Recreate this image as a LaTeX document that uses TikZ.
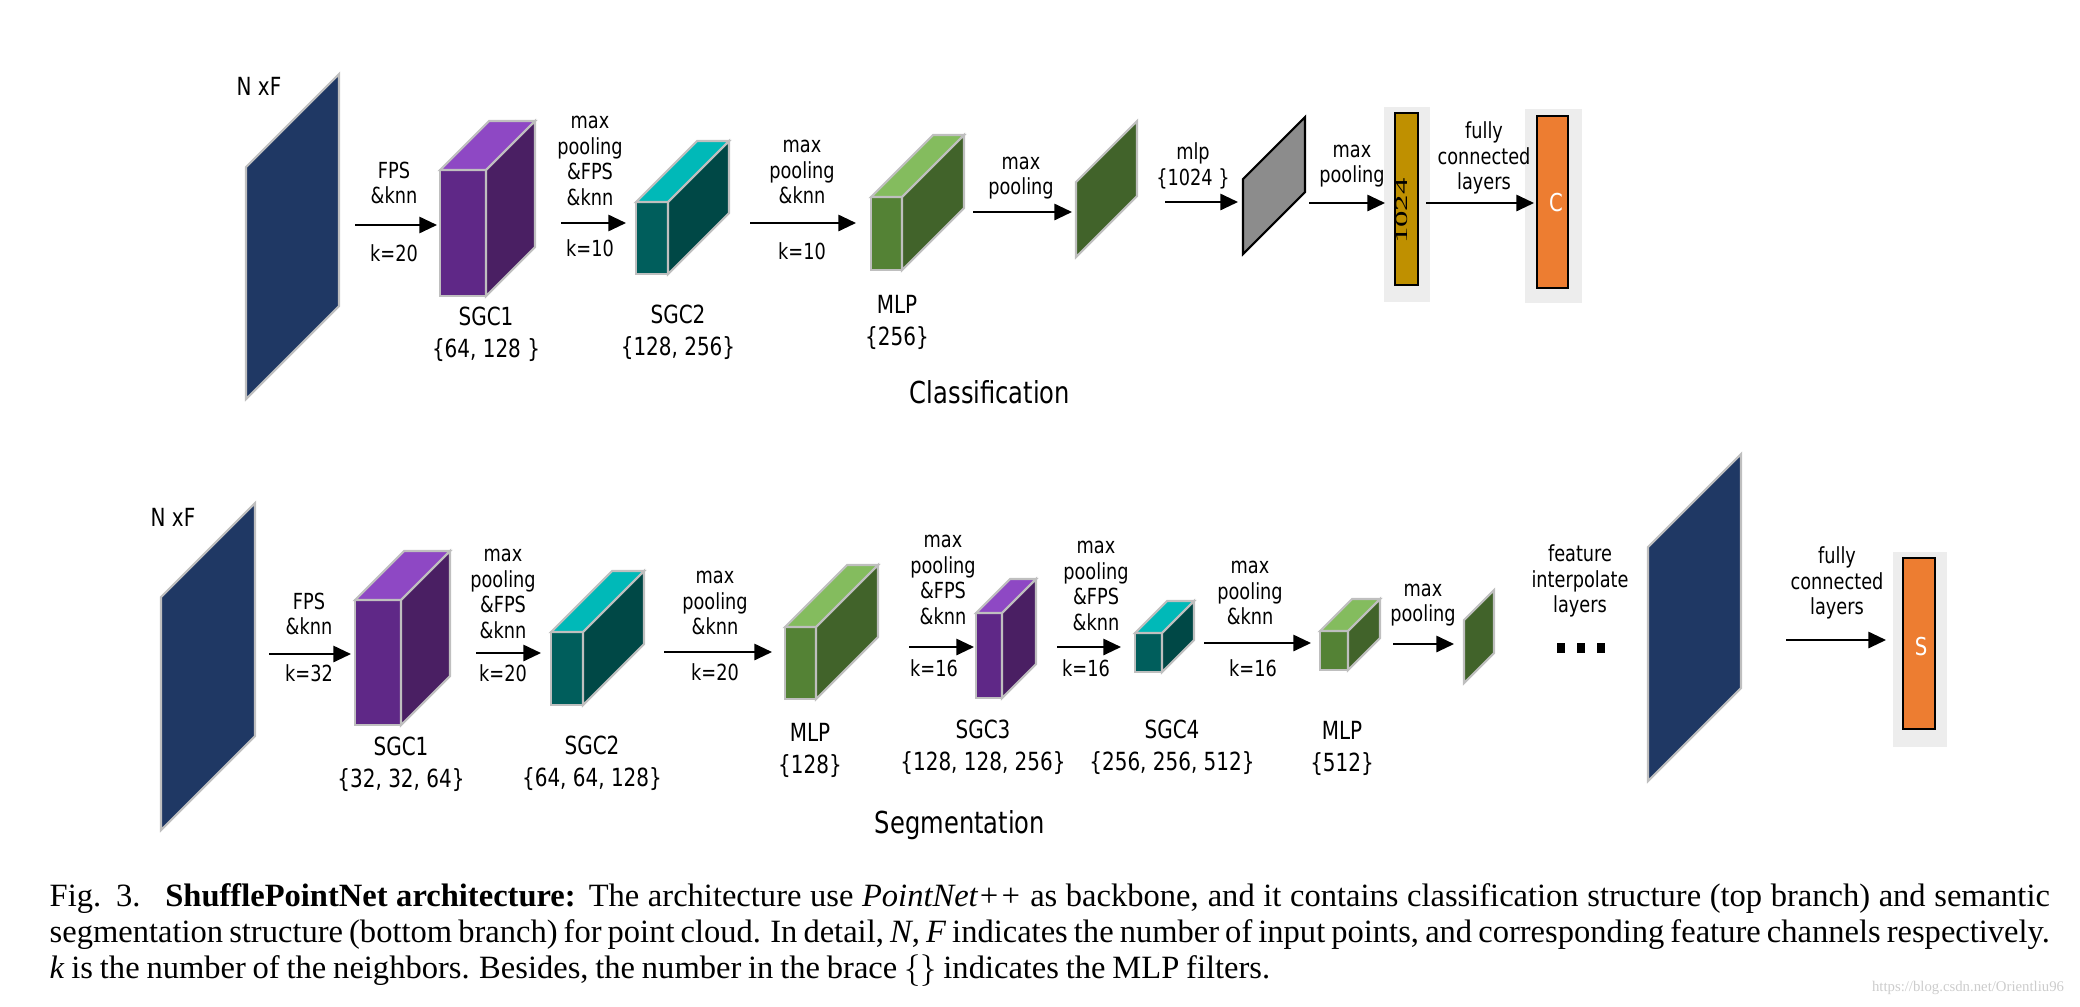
\documentclass[tikz,border=0pt]{standalone}
\usepackage{fontspec}
\setmainfont{Liberation Serif}
\newfontfamily\lblfont[FakeStretch=0.8]{DejaVu Sans}
\usepackage{tikz}
\usetikzlibrary{arrows.meta}
\usepackage{xcolor}
\definecolor{navy}{HTML}{1F3864}
\definecolor{purpF}{HTML}{5F2887}
\definecolor{purpT}{HTML}{8E48C4}
\definecolor{purpS}{HTML}{4A1F63}
\definecolor{tealF}{HTML}{005E5C}
\definecolor{tealT}{HTML}{00B9B8}
\definecolor{tealS}{HTML}{004846}
\definecolor{grnF}{HTML}{548235}
\definecolor{grnT}{HTML}{84BC5E}
\definecolor{grnS}{HTML}{41632A}
\definecolor{gold}{HTML}{BF9000}
\definecolor{orng}{HTML}{ED7D31}

% cube: x, y (front top left), w, h, depth, front, top, side
\newcommand{\cube}[8]{%
  \filldraw[outl, fill=#6] (#1,#2) rectangle ++(#3,#4);
  \filldraw[outl, fill=#7] (#1,#2) -- ++(#5,-#5) -- ++(#3,0) -- ++(-#5,#5) -- cycle;
  \filldraw[outl, fill=#8] (#1,#2) ++(#3,0) -- ++(#5,-#5) -- ++(0,#4) -- ++(-#5,#5) -- cycle;
}
% flat panel: x, y (left top), height, depth, style
\newcommand{\panel}[5]{%
  \filldraw[#5] (#1,#2) -- ++(#4,-#4) -- ++(0,#3) -- ++(-#4,#4) -- cycle;
}

\begin{document}
\begin{tikzpicture}[x=0.01cm, y=-0.01cm,
  outl/.style={draw=black!25, line width=0.6pt},
  arr/.style={line width=0.6pt, -{Triangle[length=5pt,width=4.6pt]}},
  lbl/.style={align=center, inner sep=0pt, font=\lblfont\fontsize{6.3}{7.3}\selectfont},
  layerlbl/.style={align=center, inner sep=0pt, font=\lblfont\fontsize{7.1}{9.1}\selectfont},
  branchlbl/.style={inner sep=0pt, font=\lblfont\fontsize{8.6}{10}\selectfont},
  halo/.style={fill=black!7},
  barbox/.style={draw=black, line width=0.6pt}]
\useasboundingbox (0,0) rectangle (2080,1006);

%% classification branch
\node[layerlbl] (inC) at (259,86) {N xF};
\panel{246}{167}{232}{93}{outl, fill=navy}
\cube{440}{170}{46}{126}{49}{purpF}{purpT}{purpS}
\cube{636}{202}{32}{72}{61}{tealF}{tealT}{tealS}
\cube{871}{197}{31}{73}{62}{grnF}{grnT}{grnS}
\panel{1076}{182}{75}{61}{outl, fill=grnS}
\panel{1243}{179}{75}{62}{barbox, fill=black!45}
\fill[halo] (1384,107) rectangle (1430,302);
\filldraw[barbox, fill=gold] (1395,113) rectangle (1418,285);
\node[rotate=90, inner sep=0pt, font=\fontsize{4.9}{6}\selectfont] (gl) at (1402,211) {\scalebox{1.9}[1]{1024}};
\fill[halo] (1525,109) rectangle (1582,303);
\filldraw[barbox, fill=orng] (1537,116) rectangle (1568,288);
\node[lbl, text=white, font=\lblfont\fontsize{7}{8}\selectfont] (cl) at (1556,203) {C};

\foreach \n/\xa/\xb/\y in {1/355/437/225, 2/561/626/223, 3/750/856/223, 4/973/1072/212,
    5/1165/1238/202, 6/1309/1385/203, 7/1426/1534/203}{
  \coordinate (c\n s) at (\xa,\y);
  \coordinate (c\n e) at (\xb,\y);
  \draw[arr] (c\n s) -- (c\n e);
}
\node[lbl] (ct1) at (394,183) {FPS\\\&knn};
\node[lbl] (ck1) at (394,253) {k=20};
\node[lbl] (ct2) at (590,161) {max\\pooling\\\&FPS\\\&knn};
\node[lbl] (ck2) at (590,248) {k=10};
\node[lbl] (ct3) at (802,172) {max\\pooling\\\&knn};
\node[lbl] (ck3) at (802,251) {k=10};
\node[lbl] (ct4) at (1021,178) {max\\pooling};
\node[lbl] (ct5) at (1193,166) {mlp\\\{1024 \}};
\node[lbl] (ct6) at (1352,166) {max\\pooling};
\node[lbl] (ct7) at (1484,158) {fully\\connected\\layers};

\node[layerlbl] (cn1) at (486,334) {SGC1\\\{64, 128 \}};
\node[layerlbl] (cn2) at (678,332) {SGC2\\\{128, 256\}};
\node[layerlbl] (cn3) at (897,322) {MLP\\\{256\}};
\node[branchlbl] (ctitle) at (990,392) {Classification};

%% segmentation branch
\node[layerlbl] (inS) at (173,517) {N xF};
\panel{161}{597}{233}{94}{outl, fill=navy}
\cube{355}{600}{46}{125}{49}{purpF}{purpT}{purpS}
\cube{551}{632}{32}{73}{61}{tealF}{tealT}{tealS}
\cube{785}{627}{31}{72}{62}{grnF}{grnT}{grnS}
\cube{976}{613}{26}{85}{34}{purpF}{purpT}{purpS}
\cube{1135}{633}{27}{39}{32}{tealF}{tealT}{tealS}
\cube{1320}{631}{28}{39}{32}{grnF}{grnT}{grnS}
\panel{1464}{620}{63}{30}{outl, fill=grnS}
\foreach \x in {1557,1577,1597}
  \fill (\x,643) rectangle ++(8,10);
\panel{1648}{547}{234}{93}{outl, fill=navy}
\fill[halo] (1893,552) rectangle (1947,747);
\filldraw[barbox, fill=orng] (1903,558) rectangle (1935,729);
\node[lbl, text=white, font=\lblfont\fontsize{7}{8}\selectfont] (sl) at (1921,647) {S};

\foreach \n/\xa/\xb/\y in {1/269/351/654, 2/476/541/653, 3/664/772/652, 4/909/974/647,
    5/1057/1121/647, 6/1204/1311/643, 7/1393/1454/644, 8/1786/1886/640}{
  \coordinate (s\n s) at (\xa,\y);
  \coordinate (s\n e) at (\xb,\y);
  \draw[arr] (s\n s) -- (s\n e);
}
\node[lbl] (st1) at (309,614) {FPS\\\&knn};
\node[lbl] (sk1) at (309,673) {k=32};
\node[lbl] (st2) at (503,594) {max\\pooling\\\&FPS\\\&knn};
\node[lbl] (sk2) at (503,673) {k=20};
\node[lbl] (st3) at (715,603) {max\\pooling\\\&knn};
\node[lbl] (sk3) at (715,672) {k=20};
\node[lbl] (st4) at (943,580) {max\\pooling\\\&FPS\\\&knn};
\node[lbl] (sk4) at (934,668) {k=16};
\node[lbl] (st5) at (1096,586) {max\\pooling\\\&FPS\\\&knn};
\node[lbl] (sk5) at (1086,668) {k=16};
\node[lbl] (st6) at (1250,593) {max\\pooling\\\&knn};
\node[lbl] (sk6) at (1253,668) {k=16};
\node[lbl] (st7) at (1423,605) {max\\pooling};
\node[lbl] (st8) at (1580,581) {feature\\interpolate\\layers};
\node[lbl] (st9) at (1837,583) {fully\\connected\\layers};

\node[layerlbl] (sn1) at (401,764) {SGC1\\\{32, 32, 64\}};
\node[layerlbl] (sn2) at (592,763) {SGC2\\\{64, 64, 128\}};
\node[layerlbl] (sn3) at (810,750) {MLP\\\{128\}};
\node[layerlbl] (sn4) at (983,747) {SGC3\\\{128, 128, 256\}};
\node[layerlbl] (sn5) at (1172,747) {SGC4\\\{256, 256, 512\}};
\node[layerlbl] (sn6) at (1342,748) {MLP\\\{512\}};
\node[branchlbl] (stitle) at (960,825) {Segmentation};

%% caption
\node[anchor=north west, inner sep=0pt, text width=19.99cm, align=justify,
  font=\fontsize{9.25}{10.2}\selectfont] (cap) at (49,883) {%
  \spaceskip=0.21em plus 0.15em minus 0.06em\relax
  \hyphenpenalty=10000\relax
  Fig. 3.\enskip\ \textbf{ShufflePointNet architecture:} The architecture use \textit{PointNet++} as backbone, and it contains classification structure (top branch) and semantic\linebreak
  segmentation structure (bottom branch) for point cloud. In detail, \textit{N}, \textit{F} indicates the number of input points, and corresponding feature channels respectively.\linebreak
  \textit{k} is the number of the neighbors. Besides, the number in the brace $\{\}$ indicates the MLP filters.};
\node[text=black!20, inner sep=0pt, font=\fontsize{4.2}{5}\selectfont] (wm) at (1968,988) {https://blog.csdn.net/Orientliu96};
\end{tikzpicture}
\end{document}
